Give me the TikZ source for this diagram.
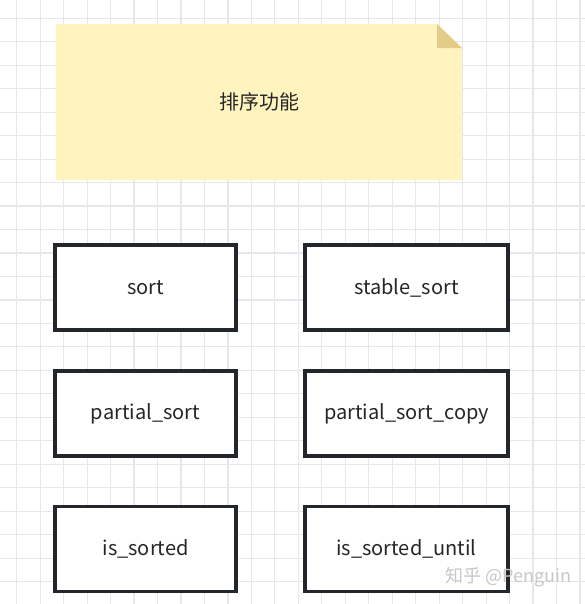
\documentclass[tikz,border=0pt]{standalone}
\usepackage{fontspec}
\setmainfont{Noto Sans CJK SC}
\definecolor{gridc}{HTML}{E6E6EB}
\definecolor{notefill}{HTML}{FFF4C0}
\definecolor{notefold}{HTML}{E3CB88}
\definecolor{boxline}{HTML}{23272B}
\definecolor{txt}{HTML}{262626}
\tikzset{
  fnbox/.style={draw=boxline, line width=2.4pt, fill=white, minimum width=135.75pt, minimum height=63.75pt, inner sep=0pt, text=txt, font=\fontsize{15}{18}\selectfont},
  fnboxw/.style={fnbox, minimum width=152.25pt},
}
\begin{document}
\begin{tikzpicture}[x=0.75pt,y=-0.75pt]
\useasboundingbox (0,0) rectangle (585,604);
\fill[white] (0,0) rectangle (585,604);
% grid
\foreach \k in {0,...,24} {
  \draw[gridc, line width=0.9pt] ({16.7+23.47*\k},0) -- ({16.7+23.47*\k},604);
  \draw[gridc, line width=0.9pt] (0,{18.3+23.47*\k}) -- (585,{18.3+23.47*\k});
}
% sticky note
\fill[notefill] (56,24) -- (437,24) -- (462,48) -- (462,180) -- (56,180) -- cycle;
\fill[notefold] (437,24) -- (462,48) -- (437,48) -- cycle;
\node[text=txt, font=\fontsize{15}{18}\selectfont] (title) at (259,102) {排序功能};
% boxes
\node[fnbox] (sort) at (145.5,287.5) {sort};
\node[fnboxw] (stable) at (406.5,287.5) {stable\_sort};
\node[fnbox] (psort) at (145.5,413.5) {partial\_sort};
\node[fnboxw] (psortc) at (406.5,413.5) {partial\_sort\_copy};
\node[fnbox] (issorted) at (145.5,549) {is\_sorted};
\node[fnboxw] (issu) at (406.5,549) {is\_sorted\_until};
% watermark
\node[text=black!22, font=\fontsize{13.5}{16}\selectfont, anchor=west, inner sep=0pt] (wm) at (445,577) {知乎 @Penguin};
\end{tikzpicture}
\end{document}
